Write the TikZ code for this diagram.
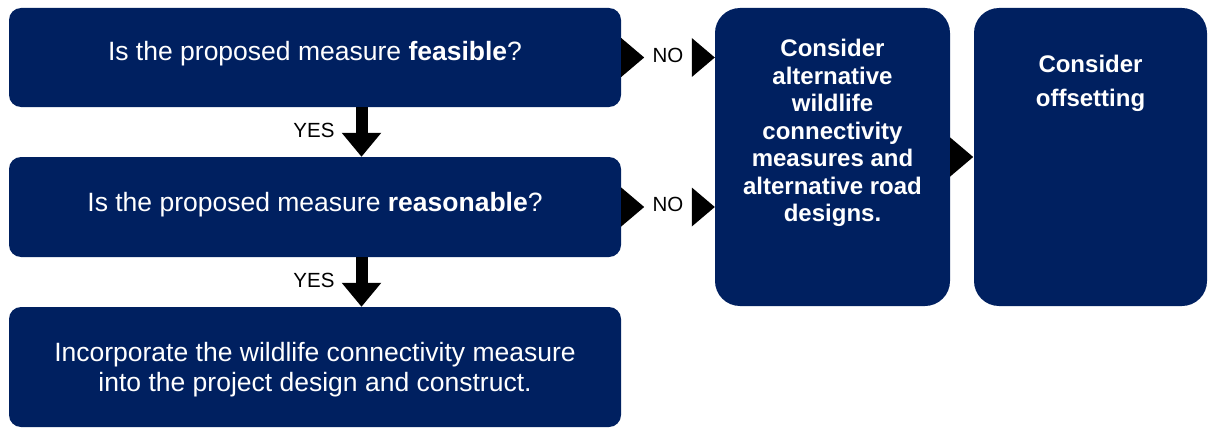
\documentclass[tikz,border=0pt]{standalone}
\usepackage{fontspec}
\setmainfont{Liberation Sans}
\usetikzlibrary{arrows.meta,calc}
\definecolor{navy}{RGB}{0,32,96}
\begin{document}
\begin{tikzpicture}[x=1pt,y=-1pt,
  panel/.style={fill=navy, inner sep=0pt, rounded corners=12pt, minimum width=612pt},
  tallpanel/.style={fill=navy, inner sep=0pt, rounded corners=25pt, minimum height=298pt},
  qtext/.style={text=white, font=\fontsize{26.5}{29.3}\selectfont, align=center, anchor=base, inner sep=0pt},
  btext/.style={text=white, font=\bfseries\fontsize{24}{27.5}\selectfont, align=center, anchor=base, inner sep=0pt},
  tag/.style={font=\fontsize{20.5}{24}\selectfont, inner sep=0pt},
  notch/.pic={\fill[black] (0,-19.5) -- (23,0) -- (0,19.5) -- cycle;},
  down/.style={line width=12pt, -{Triangle[width=38pt,length=24pt]}},
]
\useasboundingbox (0,0) rectangle (1208,428);

% question panels on the left
\node[panel, minimum height=99pt]  (feas)  at (315,57.5) {};
\node[panel, minimum height=100pt] (reas)  at (315,207)  {};
\node[panel, minimum height=120pt] (build) at (315,367)  {};

% outcome panels on the right
\node[tallpanel, minimum width=235pt] (alt) at (832.5,157) {};
\node[tallpanel, minimum width=233pt] (off) at (1090.5,157) {};

% panel texts (base anchor = baseline of the last line)
\node[qtext] (tfeas) at (315,61)  {Is the proposed measure \textbf{feasible}?};
\node[qtext] (treas) at (315,211) {Is the proposed measure \textbf{reasonable}?};
\node[qtext] (tbuild) at (315,391) {Incorporate the wildlife connectivity measure\\into the project design and construct.};
\node[btext] (talt) at (832.5,221.7) {Consider\\alternative\\wildlife\\connectivity\\measures and\\alternative road\\designs.};
\node[btext, font=\bfseries\fontsize{24}{34}\selectfont] (toff) at (1090.5,106.3) {Consider\\offsetting};

% YES connectors
\draw[down] ([xshift=46.5pt]feas.south) -- ([xshift=46.5pt]reas.north)
  node[tag, midway, xshift=-47.5pt, yshift=2pt] {YES};
\draw[down] ([xshift=46.5pt]reas.south) -- ([xshift=46.5pt]build.north)
  node[tag, midway, xshift=-47.5pt, yshift=2pt] {YES};

% NO connectors
\path (feas.east) -- (alt.west |- feas.east) node[tag, midway, yshift=2.5pt] {NO};
\pic at (feas.east) {notch};
\pic at ($(alt.west |- feas.east)+(-23,0)$) {notch};
\path (reas.east) -- (alt.west |- reas.east) node[tag, midway, yshift=2.5pt] {NO};
\pic at (reas.east) {notch};
\pic at ($(alt.west |- reas.east)+(-23,0)$) {notch};

% alternatives lead on to offsetting
\pic at (alt.east) {notch};
\end{tikzpicture}
\end{document}
